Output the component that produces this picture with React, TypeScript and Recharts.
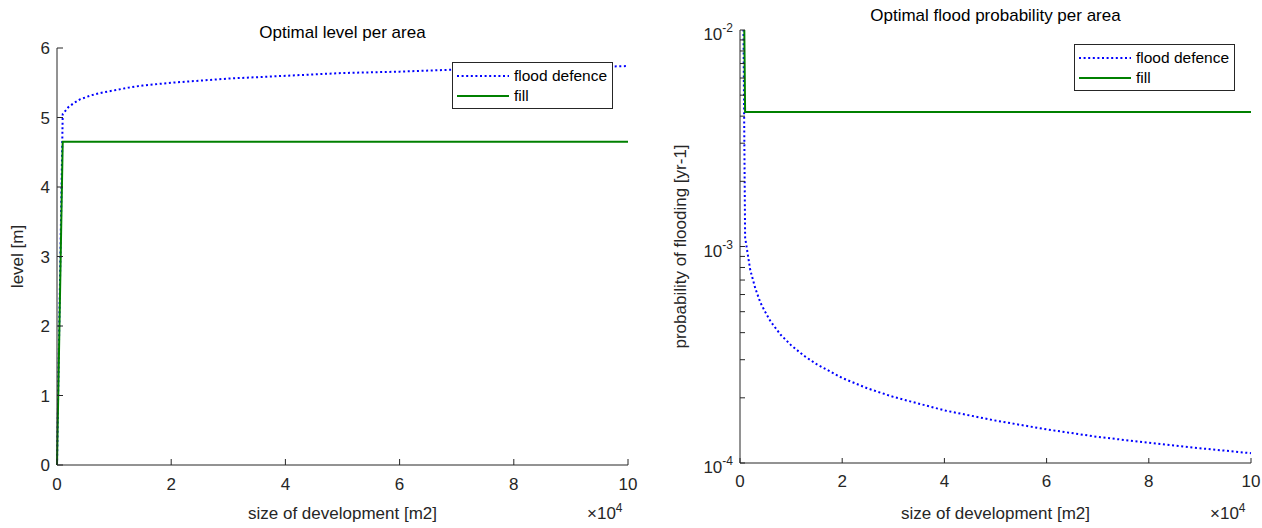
import { Label, Legend, Line, LineChart, XAxis, YAxis } from 'recharts';

// size of development [m2]
const sizes = [0, 1000, 2000, 3000, 4000, 5000, 6000, 8000, 10000, 12500, 15000, 20000, 25000, 30000, 40000, 50000, 60000, 70000, 80000, 90000, 100000];

// optimal level [m]
const defenceLevel = [0, 5.05, 5.15, 5.21, 5.26, 5.29, 5.32, 5.36, 5.39, 5.43, 5.46, 5.5, 5.53, 5.56, 5.6, 5.64, 5.66, 5.69, 5.71, 5.72, 5.74];
const fillLevel = [0, 4.65, 4.65, 4.65, 4.65, 4.65, 4.65, 4.65, 4.65, 4.65, 4.65, 4.65, 4.65, 4.65, 4.65, 4.65, 4.65, 4.65, 4.65, 4.65, 4.65];

// optimal flood probability [yr-1]
const defenceProb = [1, 1.1e-3, 7.8e-4, 6.4e-4, 5.5e-4, 4.95e-4, 4.5e-4, 3.9e-4, 3.5e-4, 3.13e-4, 2.86e-4, 2.47e-4, 2.21e-4, 2.02e-4, 1.75e-4, 1.57e-4, 1.43e-4, 1.32e-4, 1.24e-4, 1.17e-4, 1.11e-4];
const fillProb = [1, 4.18e-3, 4.18e-3, 4.18e-3, 4.18e-3, 4.18e-3, 4.18e-3, 4.18e-3, 4.18e-3, 4.18e-3, 4.18e-3, 4.18e-3, 4.18e-3, 4.18e-3, 4.18e-3, 4.18e-3, 4.18e-3, 4.18e-3, 4.18e-3, 4.18e-3, 4.18e-3];

const xTicks = [0, 20000, 40000, 60000, 80000, 100000];
const levelTicks = [0, 1, 2, 3, 4, 5, 6];
const probTicks = [
  1e-4, 2e-4, 3e-4, 4e-4, 5e-4, 6e-4, 7e-4, 8e-4, 9e-4,
  1e-3, 2e-3, 3e-3, 4e-3, 5e-3, 6e-3, 7e-3, 8e-3, 9e-3, 1e-2,
];

const rows = sizes.map((size, i) => ({
  size,
  defenceLevel: defenceLevel[i],
  fillLevel: fillLevel[i],
  defenceProb: defenceProb[i],
  fillProb: fillProb[i],
}));

const AXIS = '#262626';
const BLUE = '#0000ff';
const GREEN = '#008000';
const DOTS = '2 2.6';
const FONT = '"Liberation Sans", Arial, sans-serif';
const TICK_FS = 17;

const axisLine = { stroke: AXIS };
const tickStyle = { fill: AXIS, fontSize: TICK_FS, fontFamily: FONT };
const labelStyle = { fill: AXIS, fontSize: 17, fontFamily: FONT };
const blank = () => '';

const LegendBox = ({ payload }: any) => (
  <div
    style={{
      width: 161,
      height: 47,
      boxSizing: 'border-box',
      border: `1px solid ${AXIS}`,
      background: '#fff',
      padding: '3px 0 0 4px',
      fontFamily: FONT,
      fontSize: 15.5,
      color: '#000',
    }}
  >
    {(payload || []).map((e: any) => (
      <div key={e.value} style={{ display: 'flex', alignItems: 'center', height: 20 }}>
        <svg width={52} height={20}>
          <line
            x1={0}
            x2={52}
            y1={10}
            y2={10}
            stroke={e.color}
            strokeWidth={2}
            strokeDasharray={String(e.dataKey).includes('defence') ? DOTS : undefined}
          />
        </svg>
        <span style={{ marginLeft: 5, lineHeight: '20px' }}>{e.value}</span>
      </div>
    ))}
  </div>
);

const LogTick = ({ x, y, payload }: any) => {
  const exp = Math.round(Math.log10(payload.value));
  if (Math.abs(Math.log10(payload.value) - exp) > 1e-9) return <g />;
  return (
    <text x={x} y={y} textAnchor='end' fill={AXIS} fontSize={TICK_FS} fontFamily={FONT}>
      <tspan dy={10}>10</tspan>
      <tspan dy={-8} fontSize={12}>{exp}</tspan>
    </text>
  );
};

const LevelChart = () => (
  <LineChart width={640} height={528} data={rows} margin={{ top: 48, right: 12, bottom: 33, left: 0 }}>
    <XAxis
      xAxisId='b'
      dataKey='size'
      type='number'
      domain={[0, 100000]}
      ticks={xTicks}
      interval={0}
      height={30}
      tickSize={-6}
      tickMargin={19}
      tickFormatter={(v) => `${v / 10000}`}
      axisLine={axisLine}
      tickLine={axisLine}
      tick={tickStyle}
    >
      <Label value='size of development [m2]' position='bottom' offset={12} style={labelStyle} />
    </XAxis>
    <XAxis
      xAxisId='t'
      orientation='top'
      type='number'
      domain={[0, 100000]}
      ticks={xTicks}
      interval={0}
      height={0}
      tickSize={-6}
      tickFormatter={blank}
      axisLine={axisLine}
      tickLine={axisLine}
    />
    <YAxis
      yAxisId='l'
      type='number'
      domain={[0, 6]}
      ticks={levelTicks}
      interval={0}
      width={57}
      tickSize={-6}
      tickMargin={13}
      axisLine={axisLine}
      tickLine={axisLine}
      tick={tickStyle}
    >
      <Label value='level [m]' angle={-90} position='insideLeft' offset={17} style={{ ...labelStyle, textAnchor: 'middle' }} />
    </YAxis>
    <YAxis
      yAxisId='r'
      orientation='right'
      type='number'
      domain={[0, 6]}
      ticks={levelTicks}
      interval={0}
      width={0}
      tickSize={-6}
      tickFormatter={blank}
      axisLine={axisLine}
      tickLine={axisLine}
    />
    <Line
      xAxisId='b'
      yAxisId='l'
      dataKey='defenceLevel'
      name='flood defence'
      stroke={BLUE}
      strokeWidth={2}
      strokeDasharray={DOTS}
      dot={false}
      isAnimationActive={false}
    />
    <Line
      xAxisId='b'
      yAxisId='l'
      dataKey='fillLevel'
      name='fill'
      stroke={GREEN}
      strokeWidth={2}
      dot={false}
      isAnimationActive={false}
    />
    <Legend
      layout='horizontal'
      verticalAlign='middle'
      align='center'
      itemSorter='dataKey'
      wrapperStyle={{ left: 452, top: 62, width: 161, height: 47 }}
      content={LegendBox}
    />
  </LineChart>
);

const ProbChart = () => (
  <LineChart width={622} height={528} data={rows} margin={{ top: 30, right: 11, bottom: 35, left: 0 }}>
    <XAxis
      xAxisId='b'
      dataKey='size'
      type='number'
      domain={[0, 100000]}
      ticks={xTicks}
      interval={0}
      height={30}
      tickSize={-5}
      tickMargin={17}
      tickFormatter={(v) => `${v / 10000}`}
      axisLine={axisLine}
      tickLine={axisLine}
      tick={tickStyle}
    >
      <Label value='size of development [m2]' position='bottom' offset={14} style={labelStyle} />
    </XAxis>
    <XAxis
      xAxisId='t'
      orientation='top'
      type='number'
      domain={[0, 100000]}
      ticks={xTicks}
      interval={0}
      height={0}
      tickSize={-5}
      tickFormatter={blank}
      axisLine={axisLine}
      tickLine={axisLine}
    />
    <YAxis
      yAxisId='l'
      type='number'
      scale='log'
      domain={[1e-4, 1e-2]}
      allowDataOverflow
      ticks={probTicks}
      interval={0}
      width={100}
      tickSize={-5}
      tickMargin={12}
      axisLine={axisLine}
      tickLine={axisLine}
      tick={<LogTick />}
    >
      <Label
        value='probability of flooding [yr-1]'
        angle={-90}
        position='insideLeft'
        offset={40}
        style={{ ...labelStyle, textAnchor: 'middle' }}
      />
    </YAxis>
    <YAxis
      yAxisId='r'
      orientation='right'
      type='number'
      scale='log'
      domain={[1e-4, 1e-2]}
      allowDataOverflow
      ticks={probTicks}
      interval={0}
      width={0}
      tickSize={-5}
      tickFormatter={blank}
      axisLine={axisLine}
      tickLine={axisLine}
    />
    <Line
      xAxisId='b'
      yAxisId='l'
      dataKey='defenceProb'
      name='flood defence'
      stroke={BLUE}
      strokeWidth={2}
      strokeDasharray={DOTS}
      dot={false}
      isAnimationActive={false}
    />
    <Line
      xAxisId='b'
      yAxisId='l'
      dataKey='fillProb'
      name='fill'
      stroke={GREEN}
      strokeWidth={2}
      dot={false}
      isAnimationActive={false}
    />
    <Legend
      layout='horizontal'
      verticalAlign='middle'
      align='center'
      itemSorter='dataKey'
      wrapperStyle={{ left: 434, top: 44, width: 161, height: 47 }}
      content={LegendBox}
    />
  </LineChart>
);

export default function App() {
  return (
    <div style={{ position: 'absolute', left: 0, top: 0, width: 1262, height: 528, background: '#fff', fontFamily: FONT }}>
      <div style={{ position: 'absolute', left: 0, top: 0 }}>
        <LevelChart />
      </div>
      <div style={{ position: 'absolute', left: 640, top: 0 }}>
        <ProbChart />
      </div>
      <svg width={1262} height={528} style={{ position: 'absolute', left: 0, top: 0, pointerEvents: 'none' }}>
        <text x={342.5} y={38} textAnchor='middle' fill='#000' fontSize={17} fontFamily={FONT}>
          Optimal level per area
        </text>
        <text x={995.5} y={21} textAnchor='middle' fill='#000' fontSize={17} fontFamily={FONT}>
          Optimal flood probability per area
        </text>
        <text x={587} y={519} fill={AXIS} fontSize={TICK_FS} fontFamily={FONT}>
          ×10<tspan dy={-7} fontSize={12}>4</tspan>
        </text>
        <text x={1210} y={519} fill={AXIS} fontSize={TICK_FS} fontFamily={FONT}>
          ×10<tspan dy={-7} fontSize={12}>4</tspan>
        </text>
      </svg>
    </div>
  );
}
